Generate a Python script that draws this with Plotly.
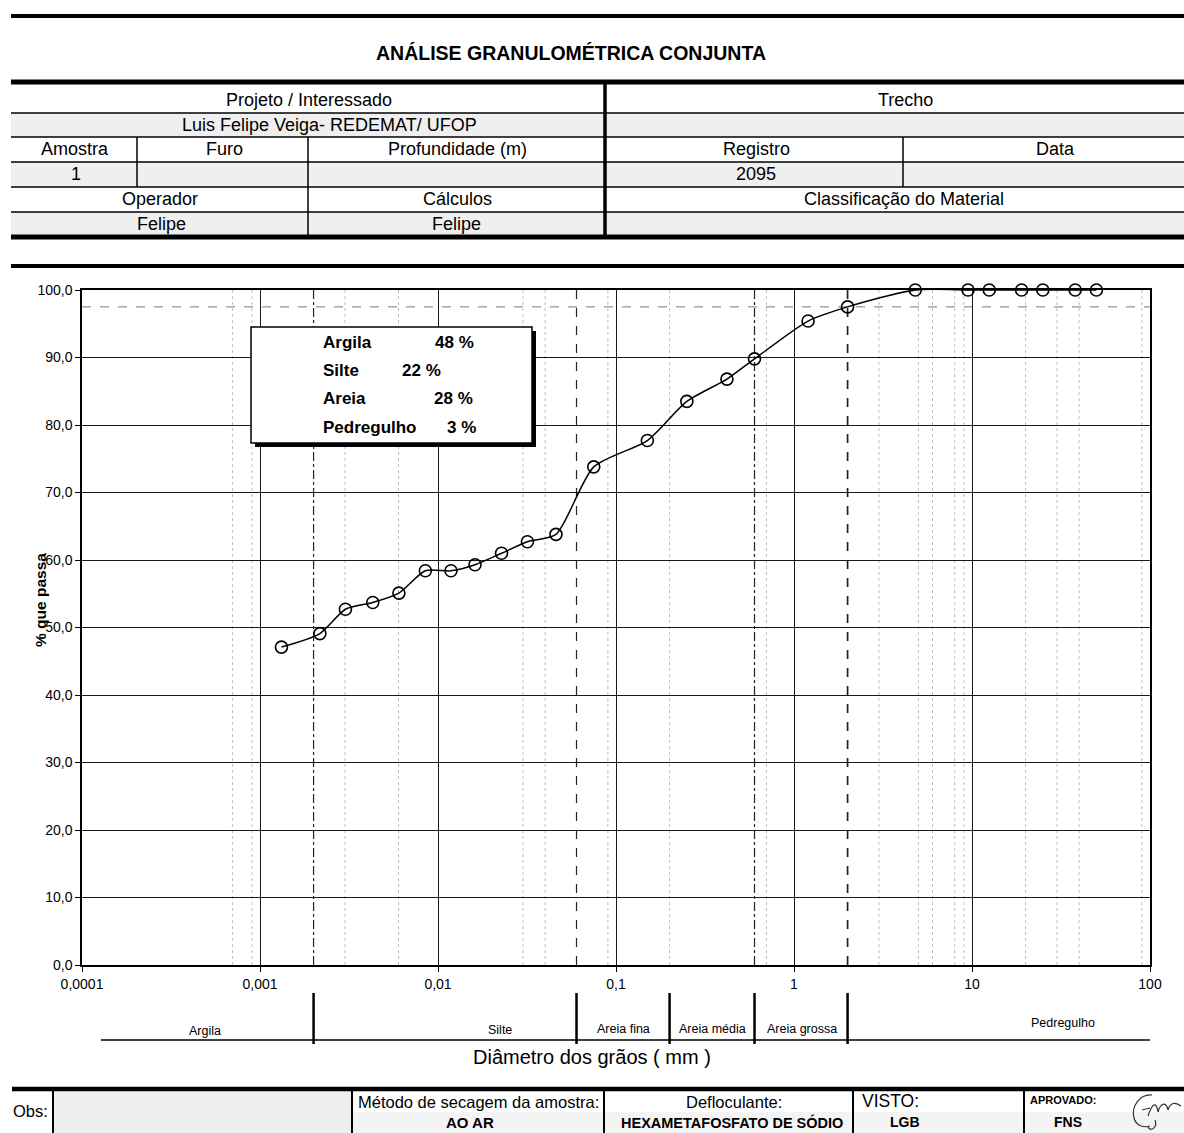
import plotly.graph_objects as go

# ---------------- data ----------------
diametro_mm = [0.00132, 0.00217, 0.00302, 0.0043, 0.00603, 0.00849, 0.01183,
               0.01614, 0.02275, 0.0318, 0.046,
               0.075, 0.15, 0.25, 0.42, 0.6, 1.2, 2.0,
               4.8, 9.5, 12.5, 19, 25, 38, 50]
passante_pct = [47.1, 49.1, 52.7, 53.7, 55.1, 58.4, 58.4,
                59.3, 61.0, 62.7, 63.8,
                73.8, 77.7, 83.5, 86.8, 89.8, 95.4, 97.5,
                100, 100, 100, 100, 100, 100, 100]

x_tick_vals = [0.0001, 0.001, 0.01, 0.1, 1, 10, 100]
x_tick_text = ["0,0001", "0,001", "0,01", "0,1", "1", "10", "100"]

fracoes = ["Argila", "Silte", "Areia", "Pedregulho"]
fracoes_pct = [48, 22, 28, 3]

limites_mm = [0.002, 0.06, 0.2, 0.6, 2.0]
faixas = ["Argila", "Silte", "Areia fina", "Areia média", "Areia grossa", "Pedregulho"]

guias_secundarias = [0.0007, 0.0009, 0.003, 0.006, 0.03, 0.04, 0.09, 0.2, 0.7,
                     3, 5, 6, 8, 9, 20, 30, 40, 90]

# ---------------- page geometry ----------------
W, H = 1184, 1133
L, R, T, B = 82, 34, 290, 168
FONT = "Liberation Sans, Arial, Helvetica, sans-serif"


def fx(p):
    return (p - L) / (W - L - R)


def fy(p):
    return (H - B - p) / (H - T - B)


shapes = []
annotations = []


def hline(y, x0, x1, w=1.5, color="black", dash="solid"):
    shapes.append(dict(type="line", xref="paper", yref="paper",
                       x0=fx(x0), x1=fx(x1), y0=fy(y), y1=fy(y),
                       line=dict(color=color, width=w, dash=dash)))


def vline(x, y0, y1, w=1.5):
    shapes.append(dict(type="line", xref="paper", yref="paper",
                       x0=fx(x), x1=fx(x), y0=fy(y0), y1=fy(y1),
                       line=dict(color="black", width=w)))


def shade(x0, y0, x1, y1, color="#efefef"):
    shapes.append(dict(type="rect", xref="paper", yref="paper", layer="below",
                       x0=fx(x0), x1=fx(x1), y0=fy(y1), y1=fy(y0),
                       fillcolor=color, line=dict(width=0)))


def text(t, x, y, size=18, bold=False, anchor="center", angle=0):
    annotations.append(dict(text=f"<b>{t}</b>" if bold else t,
                            xref="paper", yref="paper", x=fx(x), y=fy(y),
                            xanchor=anchor, yanchor="middle", showarrow=False,
                            textangle=angle,
                            font=dict(family=FONT, size=size, color="black")))


# ---------------- header form ----------------
for y0, y1 in [(113, 137), (162, 187), (212, 237)]:
    shade(11, y0, 1184, y1)

hline(16, 11, 1184, w=4)
text("ANÁLISE GRANULOMÉTRICA CONJUNTA", 571, 53, size=19.5, bold=True)
hline(82, 11, 1184, w=5)
for y in [113, 137, 162, 187, 212]:
    hline(y, 11, 1184, w=1.6)
hline(237, 11, 1184, w=5)
hline(266, 11, 1184, w=4)
vline(137, 137, 187)
vline(308, 137, 237)
vline(605, 82, 237, w=3.5)
vline(903, 137, 187)

text("Projeto / Interessado", 309, 100, size=18)
text("Trecho", 905, 100, size=18)
text("Luis Felipe Veiga- REDEMAT/ UFOP", 329, 125, size=18)
text("Amostra", 75, 149, size=18)
text("Furo", 224, 149, size=18)
text("Profundidade (m)", 457, 149, size=18)
text("Registro", 756, 149, size=18)
text("Data", 1055, 149, size=18)
text("1", 76, 174, size=18)
text("2095", 756, 174, size=18)
text("Operador", 160, 199, size=18)
text("Cálculos", 457, 199, size=18)
text("Classificação do Material", 904, 199, size=18)
text("Felipe", 161, 224, size=18)
text("Felipe", 456, 224, size=18)

# ---------------- chart reference lines ----------------
for v in guias_secundarias:
    shapes.append(dict(type="line", xref="x", yref="y", layer="below",
                       x0=v, x1=v, y0=0, y1=100,
                       line=dict(color="#bdbdbd", width=1, dash="dot")))

shapes.append(dict(type="line", xref="paper", yref="y", layer="below",
                   x0=0, x1=1, y0=97.5, y1=97.5,
                   line=dict(color="#777777", width=1, dash="dash")))

estilos_limites = ["dashdot", "dash", "dashdot", "dashdot", "dash"]
larguras_limites = [1.2, 1.2, 0.8, 1.2, 1.7]
for v, d, w in zip(limites_mm, estilos_limites, larguras_limites):
    if v == 0.2:
        continue
    shapes.append(dict(type="line", xref="x", yref="y", layer="below",
                       x0=v, x1=v, y0=0, y1=100,
                       line=dict(color="#222222", width=w, dash=d)))

# summary box
bx0, by0, bx1, by1 = 251, 327, 532, 443
shapes.append(dict(type="rect", xref="paper", yref="paper",
                   x0=fx(bx0 + 4), x1=fx(bx1 + 4), y0=fy(by1 + 4), y1=fy(by0 + 4),
                   fillcolor="black", line=dict(width=0)))
shapes.append(dict(type="rect", xref="paper", yref="paper",
                   x0=fx(bx0), x1=fx(bx1), y0=fy(by1), y1=fy(by0),
                   fillcolor="white", line=dict(color="black", width=1.5)))
linhas_y = [342, 370, 398, 427]
valores_x = [476, 443, 475, 478]
for nome, pct, yy, vx in zip(fracoes, fracoes_pct, linhas_y, valores_x):
    text(nome, 321, yy, size=17, bold=True, anchor="left")
    text(f"{pct} %", vx, yy, size=17, bold=True, anchor="right")

# y axis title
text("% que passa", 40, 600, size=15.5, bold=True, angle=-90)

# ---------------- classification band ----------------
hline(1040, 101, 1150, w=1.6)
for v in limites_mm:
    shapes.append(dict(type="line", xref="x", yref="paper",
                       x0=v, x1=v, y0=fy(993), y1=fy(1044),
                       line=dict(color="black", width=2.5)))
faixas_x = [205, 500, 623, 712, 802, 1063]
faixas_y = [1031, 1030, 1029, 1029, 1029, 1023]
for nome, xx, yy in zip(faixas, faixas_x, faixas_y):
    text(nome, xx, yy, size=12.5)

text("Diâmetro dos grãos ( mm )", 592, 1057, size=20)

# ---------------- footer form ----------------
shade(53, 1090, 352, 1133)
shade(352, 1112, 1184, 1133, color="#f4f4f4")
hline(1089, 12, 1184, w=4.5)
for x in [53, 352, 604, 853, 1024]:
    vline(x, 1089, 1133, w=2)

text("Obs:", 50, 1111, size=16.5, anchor="right")
text("Método de secagem da amostra:", 478, 1102, size=16.5)
text("AO AR", 470, 1122, size=15, bold=True)
text("Defloculante:", 734, 1102, size=16.5)
text("HEXAMETAFOSFATO DE SÓDIO", 732, 1122, size=14.5, bold=True)
text("VISTO:", 860, 1101, size=17.5, anchor="left")
text("LGB", 905, 1122, size=14, bold=True)
text("APROVADO:", 1028, 1100, size=11, bold=True, anchor="left")
text("FNS", 1068, 1122, size=14, bold=True)

# signature
def P(x, y):
    return f"{fx(x):.5f},{fy(y):.5f}"


assinatura = (f"M{P(1152, 1095)} C{P(1140, 1094)} {P(1131, 1106)} {P(1134, 1118)} "
              f"C{P(1136, 1126)} {P(1144, 1128)} {P(1150, 1126)} "
              f"M{P(1142, 1110)} L{P(1150, 1108)} "
              f"M{P(1148, 1116)} C{P(1152, 1104)} {P(1156, 1100)} {P(1158, 1112)} "
              f"C{P(1160, 1104)} {P(1166, 1100)} {P(1168, 1110)} "
              f"C{P(1170, 1102)} {P(1176, 1102)} {P(1181, 1106)} "
              f"M{P(1155, 1120)} C{P(1158, 1128)} {P(1150, 1132)} {P(1148, 1127)}")
shapes.append(dict(type="path", xref="paper", yref="paper", path=assinatura,
                   line=dict(color="#333333", width=1.2)))

# ---------------- figure ----------------
fig = go.Figure()
fig.add_trace(go.Scatter(
    x=diametro_mm, y=passante_pct, mode="lines+markers",
    line=dict(color="black", width=1.5, shape="spline", smoothing=0.7),
    marker=dict(symbol="circle-open", size=12, color="black",
                line=dict(color="black", width=1.6)),
    cliponaxis=False,
    showlegend=False, hoverinfo="x+y",
))

fig.update_layout(
    width=W, height=H,
    margin=dict(l=L, r=R, t=T, b=B, autoexpand=False),
    paper_bgcolor="white", plot_bgcolor="white",
    separators=",.",
    font=dict(family=FONT, color="black"),
    shapes=shapes, annotations=annotations,
    showlegend=False,
)
fig.update_xaxes(
    type="log", range=[-4, 2],
    tickvals=x_tick_vals, ticktext=x_tick_text,
    showgrid=True, gridcolor="#1a1a1a", gridwidth=1.3,
    showline=True, linecolor="black", linewidth=1.5, mirror=True,
    ticks="outside", ticklen=5, tickcolor="black",
    tickfont=dict(family=FONT, size=14, color="black"),
    zeroline=False,
)
fig.update_yaxes(
    range=[0, 100], dtick=10, tickformat=".1f",
    showgrid=True, gridcolor="#1a1a1a", gridwidth=1.3,
    showline=True, linecolor="black", linewidth=1.5, mirror=True,
    ticks="outside", ticklen=5, tickcolor="black",
    tickfont=dict(family=FONT, size=14, color="black"),
    zeroline=False,
)

fig.write_html("out.html")
